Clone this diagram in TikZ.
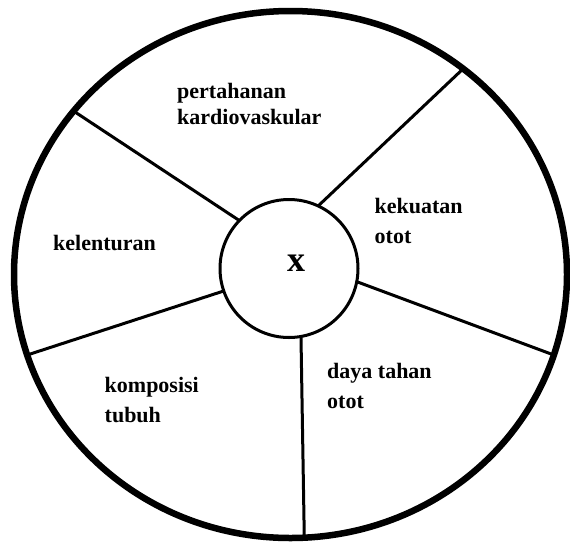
\documentclass[tikz,border=0pt]{standalone}
\usepackage{fontspec}
\setmainfont{Liberation Serif}
\usetikzlibrary{shapes.geometric}
\tikzset{
  rim/.style={draw, ellipse, line width=6.5pt, outer sep=0pt, inner sep=0pt},
  hub/.style={draw, circle, line width=3pt, outer sep=0pt, inner sep=0pt},
  spoke/.style={line width=3pt},
  lbl/.style={anchor=base west, inner sep=0pt, font=\fontsize{22}{28}\selectfont\bfseries},
  bigx/.style={anchor=base, inner sep=0pt, font=\fontsize{36}{40}\selectfont\bfseries}
}
\begin{document}
\begin{tikzpicture}[x=1pt, y=-1pt]
\useasboundingbox (0,0) rectangle (570,544);
\node[rim, minimum width=553pt, minimum height=527pt] (outer) at (290.5,274.5) {};
\node[hub, minimum size=138pt] (inner) at (289,268.5) {};
\node[bigx] (x) at (296,271.5) {x};
\draw[spoke] (inner.136.4) -- (outer.143.1);
\draw[spoke] (inner.65.2) -- (outer.50.8);
\draw[spoke] (inner.-11.5) -- (outer.-17.85);
\draw[spoke] (inner.-80.9) -- (outer.-87.9);
\draw[spoke] (inner.199.3) -- (outer.197.5);
\node[lbl] (p1) at (177,98) {pertahanan};
\node[lbl] (p2) at (177,124) {kardiovaskular};
\node[lbl] (k1) at (53,250) {kelenturan};
\node[lbl] (ko1) at (374.5,213.5) {kekuatan};
\node[lbl] (ko2) at (374.5,243) {otot};
\node[lbl] (d1) at (327,378.5) {daya tahan};
\node[lbl] (d2) at (327,408) {otot};
\node[lbl] (c1) at (104.5,392) {komposisi};
\node[lbl] (c2) at (104.5,422) {tubuh};
\end{tikzpicture}
\end{document}
